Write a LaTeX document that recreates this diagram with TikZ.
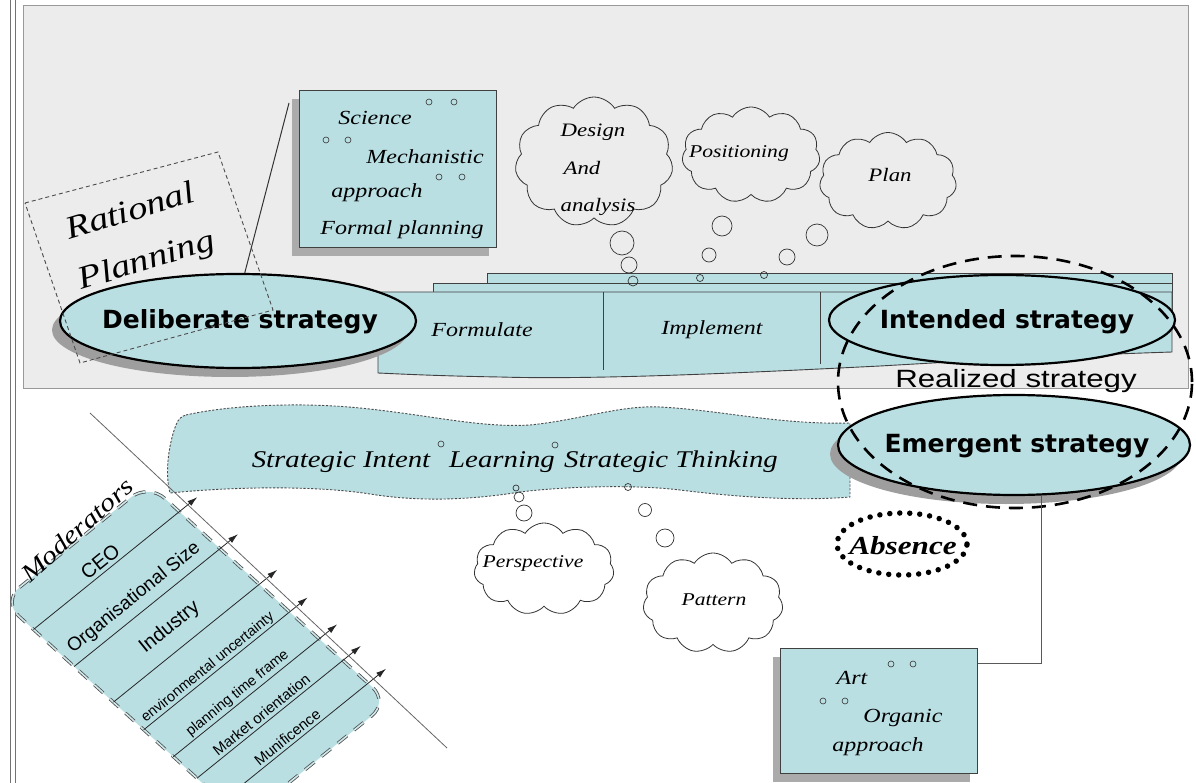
\documentclass[tikz,border=0pt]{standalone}
\usepackage{fontspec}
\setmainfont{Liberation Serif}
\newfontfamily\scrf[FakeStretch=1.2]{Liberation Serif}
\newfontfamily\boldsans{DejaVu Sans}
\newfontfamily\arialf{Liberation Sans}
\newfontfamily\realf[FakeStretch=1.25]{Liberation Sans}
\usetikzlibrary{shapes.geometric,shapes.symbols,shadows,arrows.meta,calc}
\definecolor{cy}{RGB}{186,223,227}
\definecolor{panelc}{RGB}{236,236,236}
\newcommand{\fsz}[1]{\fontsize{#1}{#1}\selectfont}
\begin{document}
\begin{tikzpicture}[x=1pt,y=-1pt,
  scr/.style={font=\scrf\itshape\fsz{#1}, inner sep=0pt},
  scr/.default=20,
  elab/.style={font=\boldsans\bfseries\fsz{25}, inner sep=0pt},
  ell/.style={ellipse, draw=black, line width=2.2pt, fill=cy, inner sep=0pt},
  eshadow/.style={drop shadow={shadow xshift=-8pt, shadow yshift=-9pt, fill=black!38, opacity=1}},
  sbox/.style={draw=black!75, line width=1.3pt, fill=cy, inner sep=0pt,
     drop shadow={shadow xshift=-8pt, shadow yshift=-8pt, fill=black!33, opacity=1}},
  cloudn/.style={cloud, cloud puffs=11, cloud puff arc=115, draw=black!80, line width=0.8pt, inner sep=0pt, aspect=1},
  bub/.style={draw=black!80, line width=0.7pt},
  dot/.style={draw=black!80, line width=0.6pt},
  barl/.style={fill=cy, draw=black!75, line width=0.9pt},
  banner/.style={fill=cy, draw=black!70, line width=0.9pt, dash pattern=on 2.2pt off 1.6pt},
  modbox/.style={fill=cy, draw=black!70, double=cy!70!white, double distance=1.6pt, line width=0.8pt, dash pattern=on 12pt off 9pt, rounded corners=22pt},
  modl/.style={font=\arialf\fsz{#1}, rotate=39, inner sep=0pt},
  modarrow/.style={draw=black!85, line width=0.8pt, -{Latex[length=10pt,width=6pt]}},
  conn/.style={draw=black!65, line width=1pt}
]
\useasboundingbox (0,0) rectangle (1196,783);
\fill[white] (0,0) rectangle (1196,783);
% left double line and top panel
\draw[black!55, line width=1pt] (10.5,0) -- (10.5,783);
\draw[black!55, line width=1pt] (15,0) -- (15,783);
\draw[draw=black!40, fill=panelc, line width=0.8pt] (23,5) rectangle (1188,388);

% Science box
\node[sbox, anchor=north west, minimum width=197pt, minimum height=157pt] (sci) at (299,90) {};
\node[scr] (t1) at (375,118) {Science};
\node[scr] (t2) at (425,157) {Mechanistic};
\node[scr] (t3) at (377,193) {approach};
\node[scr] (t4) at (402,230) {Formal planning};
\foreach \p in {(429,102),(454,102),(326,140),(348,140),(439,177),(462,177)} \draw[dot] \p circle (3pt);

% Rational planning text
\node[scr=32, rotate=17] (rat) at (130,210) {Rational};
\node[scr=32, rotate=17] (pla) at (147,262) {Planning};

% top clouds
\node[cloudn, minimum width=158pt, minimum height=130pt] (design) at (594,162) {};
\node[cloudn, minimum width=138pt, minimum height=96pt] (posit) at (751,155) {};
\node[cloudn, minimum width=137pt, minimum height=97pt] (plan) at (888,181) {};
\node[scr=19] at (593,132) {Design};
\node[scr=19] at (582,168) {And};
\node[scr=19] at (598,207) {analysis};
\node[scr=18] at (739,153) {Positioning};
\node[scr=19] at (890,175) {Plan};

% bar layers
\path[barl] (487,273) rectangle (1172,310);
\path[barl] (433,283) rectangle (1172,310);
\path[barl] (378,292) -- (1172,292) -- (1172,352) .. controls (1050,356) and (950,362) .. (880,366)
   .. controls (760,372) and (600,380) .. (500,377) .. controls (440,376) and (400,374) .. (378,373) -- cycle;
\draw[black!75, line width=0.9pt] (603,292) -- (603,370);
\draw[black!75, line width=0.9pt] (820,292) -- (820,364);
\node[scr=20] (form) at (482,330) {Formulate};
\node[scr=20] (impl) at (712,330) {Implement};

% top bubbles
\draw[bub] (622,243) circle (12pt);
\draw[bub] (629,265) circle (8pt);
\draw[bub] (633,281) circle (5pt);
\draw[bub] (722,226) circle (10pt);
\draw[bub] (709,255) circle (7pt);
\draw[bub] (700,278) circle (3.5pt);
\draw[bub] (817,235) circle (11pt);
\draw[bub] (787,257) circle (8pt);
\draw[bub] (764,275) circle (3.5pt);

% Deliberate strategy
\node[ell, eshadow, minimum width=356pt, minimum height=94pt] (del) at (238,321) {};
\node[elab] (delT) at (240,322) {Deliberate strategy};
\coordinate (scil) at (289,103);
\draw[conn, black!80] (scil) -- (del.82);

% dashed Rational Planning frame
\coordinate (r1) at (25,203);
\coordinate (r2) at (218,152);
\coordinate (r3) at (273,310);
\coordinate (r4) at (80,363);
\draw[black!70, line width=0.9pt, dash pattern=on 4pt off 3pt] (r1) -- (r2) -- (r3) -- (r4) -- cycle;

% Intended strategy
\node[ell, minimum width=346pt, minimum height=90pt] (int) at (1002,320) {};
\node[elab] (intT) at (1007,322) {Intended strategy};

% banner
\path[banner] (186,415) .. controls (230,405) and (300,402) .. (360,408)
  .. controls (430,415) and (480,428) .. (530,425)
  .. controls (580,420) and (620,405) .. (660,407)
  .. controls (720,410) and (780,425) .. (850,423) -- (850,497)
  .. controls (790,502) and (720,495) .. (680,490)
  .. controls (630,484) and (560,487) .. (520,492)
  .. controls (470,500) and (420,502) .. (370,494)
  .. controls (320,486) and (240,486) .. (170,493)
  .. controls (164,470) and (170,440) .. (176,425)
  .. controls (178,419) and (182,416) .. cycle;
\node[scr=24] (si) at (341,462) {Strategic Intent};
\node[scr=24] (le) at (502,462) {Learning};
\node[scr=24] (st) at (671,462) {Strategic Thinking};
\draw[dot] (441,444) circle (3pt);
\draw[dot] (555,445) circle (3pt);

% lower clouds
\node[cloudn, fill=white, minimum width=140pt, minimum height=92pt] (persp) at (544,569) {};
\node[cloudn, fill=white, minimum width=140pt, minimum height=100pt] (patt) at (713,603) {};
\node[scr=18] at (533,563) {Perspective};
\node[scr=18] at (714,600) {Pattern};
\draw[bub] (516,488) circle (3pt);
\draw[bub] (519,497) circle (5pt);
\draw[bub] (524,513) circle (8pt);
\draw[bub] (628,487) circle (3.5pt);
\draw[bub] (645,510) circle (6.5pt);
\draw[bub] (665,538) circle (9pt);

% Emergent strategy
\node[ell, eshadow, minimum width=352pt, minimum height=100pt] (eme) at (1014,445) {};
\node[elab] (emeT) at (1017,446) {Emergent strategy};

% Realized strategy
\node[ellipse, draw=black, line width=2.6pt, dash pattern=on 14pt off 9pt, minimum width=354pt, minimum height=252pt, inner sep=0pt] (real) at (1015,382) {};
\node[font=\realf\fsz{25}, inner sep=0pt] (realT) at (1016,381) {Realized strategy};

% Absence
\node[ellipse, draw=black, line width=5.5pt, dash pattern=on 0pt off 10pt, line cap=round, minimum width=130pt, minimum height=62pt, inner sep=0pt] (abs) at (902,544) {};
\node[font=\scrf\itshape\bfseries\fsz{26}, inner sep=0pt] (absT) at (903,546) {Absence};

% Art box
\node[sbox, anchor=north west, minimum width=197pt, minimum height=125pt] (art) at (780,648) {};
\node[scr] (a1) at (852,678) {Art};
\node[scr] (a2) at (903,718) {Organic};
\node[scr] (a3) at (878,747) {approach};
\foreach \p in {(891,664),(913,664),(823,701),(845,701)} \draw[dot] \p circle (3pt);
\draw[conn] ($(eme.south)+(27,0)$) |- ($(art.north east)+(0,15)$);

% Moderators
\coordinate (dl1) at (90,413);
\coordinate (dl2) at (447,748);
\begin{scope}[shift={(2.4,601.2)}, x={(0.78pt,0.63pt)}, y={(0.74pt,-0.673pt)}]
  \path[modbox] (0,0) -- (187,0) -- (187,325) -- (0,325) -- cycle;
  \foreach \b in {42,97,150,191,231,263,297} \draw[modarrow] (0,\b) -- (210,\b);
  \node[modl=20] (m1) at (96,31) {CEO};
  \node[modl=19] (m2) at (92,81) {Organisational Size};
  \node[modl=20] (m3) at (94,127) {Industry};
  \node[modl=14.5] (m4) at (90,183) {environmental uncertainty};
  \node[modl=14.5] (m5) at (91,222) {planning time frame};
  \node[modl=15] (m6) at (91,254) {Market orientation};
  \node[modl=15] (m7) at (92,288) {Munificence};
\end{scope}
\draw[black!60, line width=0.8pt] (dl1) -- (dl2);
\node[scr=25, rotate=42] (modT) at (77,530) {Moderators};
\end{tikzpicture}
\end{document}
